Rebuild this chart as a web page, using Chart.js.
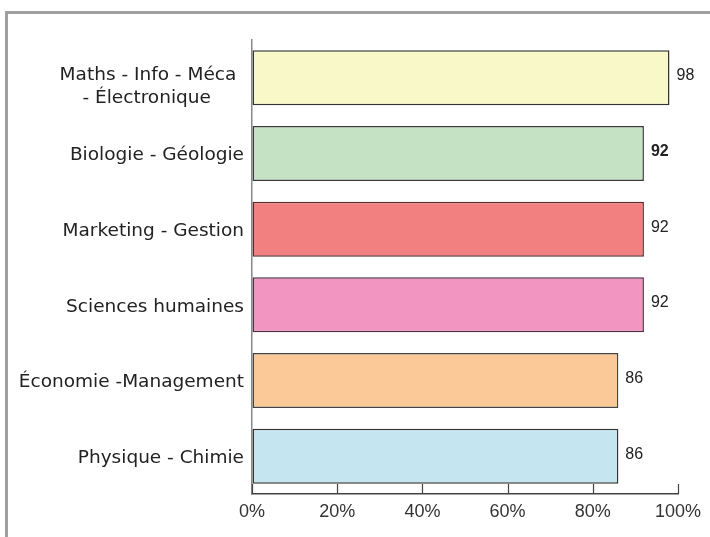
<!DOCTYPE html>
<html>
<head>
<meta charset="utf-8">
<script src="https://cdn.jsdelivr.net/npm/chart.js@4"></script>
<style>
  html, body { margin: 0; padding: 0; background: #fff; }
  #wrap { position: relative; width: 710px; height: 537px; }
  #frame { position: absolute; left: 5px; top: 11px; right: 0; bottom: 0;
           border-top: 3px solid #a0a0a0; border-left: 3px solid #a0a0a0; }
  canvas { position: absolute; left: 0; top: 0; }
</style>
</head>
<body>
<div id="wrap">
  <div id="frame"></div>
  <canvas id="c" width="710" height="537"></canvas>
</div>
<script>
const categories = [
  ["Maths - Info - Méca", "- Électronique"],
  "Biologie - Géologie",
  "Marketing - Gestion",
  "Sciences humaines",
  "Économie -Management",
  "Physique - Chimie"
];
const values = [98, 92, 92, 92, 86, 86];
const barColors = ["#f9f8c9", "#c6e2c4", "#f28080", "#f295c1", "#fbc898", "#c5e6f0"];
const borderColors = ["#333333", "#3a3a3a", "#5a2a2a", "#4a3040", "#444444", "#333333"];
const boldLabel = [false, true, false, false, false, false];
const xTicks = [0, 20, 40, 60, 80, 100];

// layout helper for the two-line label: centred lines, lowered slightly as in the original
function tickLabel(i) {
  const lab = categories[i];
  if (Array.isArray(lab)) {
    return ["", "", "", lab[0] + " \u200A", "", "", "", "", lab[1] + "     \u2009"];
  }
  return lab;
}

const plugin = {
  id: 'extras',
  afterDatasetsDraw(chart) {
    const ctx = chart.ctx;
    const xs = chart.scales.x;
    const area = chart.chartArea;
    ctx.save();
    ctx.strokeStyle = '#444';
    ctx.lineWidth = 1.2;
    xTicks.forEach(v => {
      const px = Math.round(xs.getPixelForValue(v)) + 0.5;
      ctx.beginPath();
      ctx.moveTo(px, area.bottom);
      ctx.lineTo(px, area.bottom - 10);
      ctx.stroke();
    });
    const meta = chart.getDatasetMeta(0);
    ctx.fillStyle = '#222';
    ctx.textAlign = 'left';
    ctx.textBaseline = 'middle';
    meta.data.forEach((el, i) => {
      ctx.font = (boldLabel[i] ? 'bold ' : '') + '16px "Liberation Sans"';
      ctx.fillText(String(values[i]), el.x + 7, el.y - 2);
    });
    ctx.restore();
  }
};

new Chart(document.getElementById('c'), {
  type: 'bar',
  data: {
    labels: categories,
    datasets: [{
      data: values,
      backgroundColor: barColors,
      borderColor: borderColors,
      borderWidth: 1.5,
      borderSkipped: false,
      barPercentage: 0.727,
      categoryPercentage: 1
    }]
  },
  options: {
    indexAxis: 'y',
    responsive: false,
    animation: false,
    layout: { padding: { top: 40, right: 32, left: 0, bottom: 0 } },
    plugins: { legend: { display: false }, tooltip: { enabled: false } },
    scales: {
      x: {
        min: 0, max: 100,
        afterBuildTicks(scale) { scale.ticks = xTicks.map(v => ({ value: v })); },
        afterFit(scale) { scale.height = 43; },
        grid: { display: true, drawOnChartArea: false, drawTicks: false },
        border: { display: true, color: '#444', width: 1.5 },
        ticks: {
          callback: v => v + '%',
          color: '#333',
          padding: 7,
          maxRotation: 0,
          font: { family: '"Liberation Sans"', size: 18 }
        }
      },
      y: {
        afterFit(scale) { scale.width = 252; },
        grid: { display: true, drawOnChartArea: false, drawTicks: false },
        border: { display: true, color: '#888', width: 1.5 },
        ticks: {
          color: '#222',
          padding: 8,
          labelOffset: 2,
          callback: (v, i) => tickLabel(i),
          font: ctx => ({
            family: '"DejaVu Sans"',
            size: 18.5,
            lineHeight: Array.isArray(categories[ctx.index]) ? 4.66 / 18.5 : 1.2
          })
        }
      }
    }
  },
  plugins: [plugin]
});
</script>
</body>
</html>
